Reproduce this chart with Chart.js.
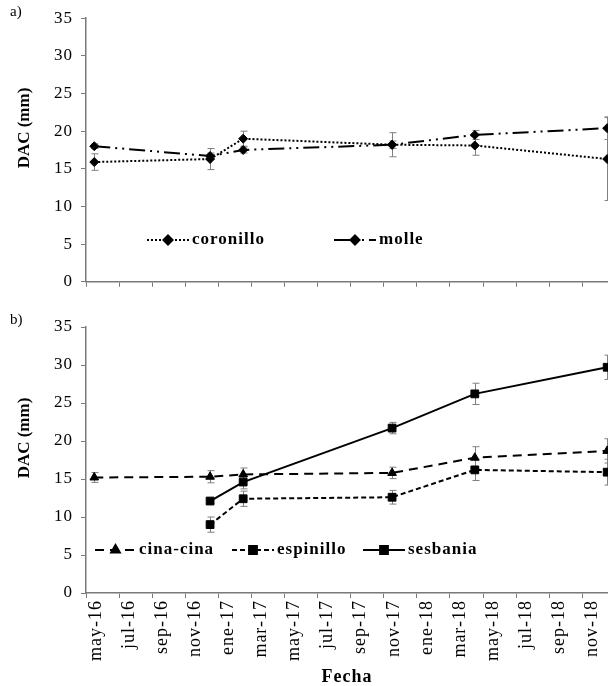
<!DOCTYPE html>
<html>
<head>
<meta charset="utf-8">
<script src="https://cdn.jsdelivr.net/npm/chart.js@4"></script>
<style>
body { margin: 0; background: #fff; }
#wrap { position: relative; width: 608px; height: 686px; overflow: hidden; }
canvas { position: absolute; left: 0; }
.lbl { position: absolute; font-family: "Liberation Serif", serif; font-size: 15px; color: #000; }
.ytitle { position: absolute; font: bold 17px "Liberation Serif", serif; color: #000;
  transform: translate(-50%, -50%) rotate(-90deg); white-space: nowrap; }
</style>
</head>
<body>
<div id="wrap">
  <canvas id="chartA" width="608" height="300" style="top:0"></canvas>
  <canvas id="chartB" width="608" height="386" style="top:300px"></canvas>
  <div class="lbl" style="left:10px;top:3px">a)</div>
  <div class="lbl" style="left:10px;top:311px">b)</div>
  <div class="ytitle" style="left:24px;top:128px">DAC (mm)</div>
  <div class="ytitle" style="left:24px;top:438px">DAC (mm)</div>
</div>
<script>
// months counted from 1 may 2016
const fechaMeses = [0.5, 7.5, 9.5, 18.5, 23.5, 31.5];
const tickLabels = ['may-16', 'jul-16', 'sep-16', 'nov-16', 'ene-17', 'mar-17', 'may-17', 'jul-17',
  'sep-17', 'nov-17', 'ene-18', 'mar-18', 'may-18', 'jul-18', 'sep-18', 'nov-18'];

// panel a
const coronillo = [15.9, 16.3, 19.0, 18.2, 18.1, 16.3];
const coronilloErr = [1.1, 1.4, 1.0, 1.6, 1.3, 5.5];
const molle = [18.0, 16.7, 17.5, 18.2, 19.5, 20.4];
const molleErr = [0.3, 0.4, 0.4, 0.5, 0.6, 1.5];

// panel b
const cinaCina = [15.2, 15.3, 15.6, 15.8, 17.8, 18.7];
const cinaCinaErr = [0.65, 0.8, 0.85, 0.75, 1.45, 1.6];
const espinillo = [null, 9.0, 12.4, 12.6, 16.2, 15.9];
const espinilloErr = [null, 1.0, 1.0, 0.9, 1.4, 1.7];
const sesbania = [null, 12.1, 14.6, 21.7, 26.2, 29.7];
const sesbaniaErr = [null, 0.3, 0.9, 0.75, 1.4, 1.6];

function pts(values) {
  return values.map((v, i) => ({ x: fechaMeses[i], y: v }));
}

const errorBars = {
  id: 'errorBars',
  beforeDraw(chart) {
    chart.ctx.letterSpacing = '1px';
  },
  beforeDatasetsDraw(chart) {
    const ctx = chart.ctx;
    const ys = chart.scales.y;
    const area = chart.chartArea;
    ctx.save();
    ctx.beginPath();
    ctx.rect(area.left, area.top - 2, area.right - area.left + 1, area.bottom - area.top + 4);
    ctx.clip();
    ctx.strokeStyle = '#808080';
    ctx.lineWidth = 1;
    chart.data.datasets.forEach((ds, i) => {
      const meta = chart.getDatasetMeta(i);
      meta.data.forEach((p, j) => {
        const v = ds.data[j].y, e = ds.errors[j];
        if (v == null || e == null) return;
        const x = Math.round(p.x) + 0.5;
        const t = ys.getPixelForValue(v + e), b = ys.getPixelForValue(v - e);
        ctx.beginPath();
        ctx.moveTo(x, t); ctx.lineTo(x, b);
        ctx.moveTo(x - 3, t); ctx.lineTo(x + 4, t);
        ctx.moveTo(x - 3, b); ctx.lineTo(x + 4, b);
        ctx.stroke();
      });
    });
    ctx.restore();
  }
};

const innerLegend = {
  id: 'innerLegend',
  afterDraw(chart, args, opts) {
    const ctx = chart.ctx;
    ctx.save();
    opts.items.forEach((it, i) => {
      const ds = chart.data.datasets[i];
      ctx.strokeStyle = '#000';
      ctx.lineWidth = ds.borderWidth;
      ctx.setLineDash(ds.borderDash || []);
      ctx.beginPath();
      ctx.moveTo(it.x0, opts.y);
      ctx.lineTo(it.x1, opts.y);
      ctx.stroke();
      ctx.setLineDash([]);
      ctx.fillStyle = '#000';
      Chart.helpers.drawPoint(ctx, { pointStyle: ds.pointStyle, radius: ds.pointRadius, rotation: 0, borderWidth: 1 },
        (it.x0 + it.x1) / 2, opts.y);
      ctx.fillStyle = '#000';
      ctx.font = 'bold 17px "Liberation Serif", serif';
      ctx.textBaseline = 'middle';
      ctx.textAlign = 'left';
      ctx.fillText(ds.label, it.x1 + 3, opts.y);
    });
    ctx.restore();
  }
};

function lineSet(label, values, errors, dash, style, radius) {
  return {
    label: label,
    data: pts(values),
    errors: errors,
    borderColor: '#000',
    backgroundColor: '#000',
    borderWidth: 2,
    borderDash: dash,
    pointStyle: style,
    pointRadius: radius,
    pointBorderWidth: 1,
    pointBorderColor: '#000',
    pointBackgroundColor: '#000',
    tension: 0,
    spanGaps: false
  };
}

function options(showLabels, padTop, xHeight, legendItems, legendY) {
  const axisColor = '#7a7a7a';
  return {
    responsive: false,
    animation: false,
    layout: { autoPadding: false, padding: { top: padTop, right: 0, left: 0, bottom: 0 } },
    plugins: {
      legend: { display: false },
      tooltip: { enabled: false },
      innerLegend: { items: legendItems, y: legendY }
    },
    scales: {
      x: {
        type: 'linear',
        min: 0,
        max: 31.55,
        afterBuildTicks: (s) => { s.ticks = tickLabels.map((l, i) => ({ value: i * 2 })); },
        afterFit: (s) => { s.height = xHeight; s.paddingRight = 0; s.paddingLeft = 0; },
        border: { color: axisColor, width: 1.5 },
        grid: { drawOnChartArea: false, drawTicks: true, tickLength: 5, color: axisColor },
        ticks: {
          display: showLabels,
          autoSkip: false,
          minRotation: 90,
          maxRotation: 90,
          padding: 2,
          labelOffset: 10,
          color: '#000',
          font: { family: '"Liberation Serif", serif', size: 18 },
          callback: (v, i) => tickLabels[i]
        },
        title: {
          display: showLabels,
          text: 'Fecha',
          color: '#000',
          padding: 0,
          font: { family: '"Liberation Serif", serif', size: 18, weight: 'bold', lineHeight: 1 }
        }
      },
      y: {
        min: 0,
        max: 35,
        afterFit: (s) => { s.width = 86; },
        border: { color: axisColor, width: 1.5 },
        grid: { drawOnChartArea: false, drawTicks: true, tickLength: 5, color: axisColor },
        ticks: {
          stepSize: 5,
          padding: 8,
          color: '#000',
          font: { family: '"Liberation Serif", serif', size: 17 }
        }
      }
    }
  };
}

new Chart(document.getElementById('chartA'), {
  type: 'line',
  data: {
    datasets: [
      lineSet('coronillo', coronillo, coronilloErr, [2, 2], 'rectRot', 4.5),
      lineSet('molle', molle, molleErr, [16, 5, 2, 5, 2, 5], 'rectRot', 4.5)
    ]
  },
  options: options(false, 17, 17,
    [{ x0: 147, x1: 189 }, { x0: 334, x1: 376 }], 240),
  plugins: [errorBars, innerLegend]
});

new Chart(document.getElementById('chartB'), {
  type: 'line',
  data: {
    datasets: [
      lineSet('cina-cina', cinaCina, cinaCinaErr, [9, 6], 'triangle', 5),
      lineSet('espinillo', espinillo, espinilloErr, [5, 3], 'rect', 5.5),
      lineSet('sesbania', sesbania, sesbaniaErr, [], 'rect', 5.5)
    ]
  },
  options: options(true, 27, 93,
    [{ x0: 95, x1: 136 }, { x0: 232, x1: 274 }, { x0: 363, x1: 405 }], 250),
  plugins: [errorBars, innerLegend]
});
</script>
</body>
</html>
